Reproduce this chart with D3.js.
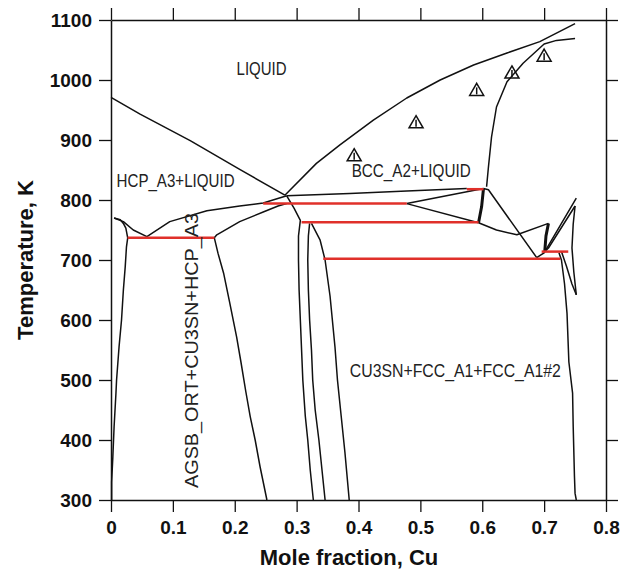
<!DOCTYPE html>
<html><head><meta charset="utf-8">
<script src="https://cdn.jsdelivr.net/npm/d3@7"></script>
<style>body{margin:0;background:#fff}</style>
</head><body>
<svg id="c" width="625" height="571"></svg>
<script>
// ---- data ----
const xTicks = [0, 0.1, 0.2, 0.3, 0.4, 0.5, 0.6, 0.7, 0.8];
const xTickLabels = ["0", "0.1", "0.2", "0.3", "0.4", "0.5", "0.6", "0.7", "0.8"];
const yTicks = [300, 400, 500, 600, 700, 800, 900, 1000, 1100];
const yTickLabels = ["300", "400", "500", "600", "700", "800", "900", "1000", "1100"];

// phase boundaries [mole fraction Cu, temperature K]
const liquidusLeft = [[0,971],[0.047,943],[0.128,899],[0.208,851],[0.281,808]];
const liquidusRight = [[0.281,808],[0.332,861],[0.370,892],[0.424,933],[0.478,970],[0.532,1000],[0.586,1025],[0.640,1045],[0.693,1064],[0.75,1094]];
const bccSolidus = [[0.75,1069],[0.72,1066],[0.70,1060],[0.666,1028],[0.640,997],[0.623,955],[0.615,905],[0.610,855],[0.607,822]];
const bccUpper = [[0.284,807],[0.386,811],[0.478,815],[0.575,819]];
const triUpper = [[0.478,794],[0.602,819]];
const triLower = [[0.478,794],[0.594,762]];
const thickA = [[0.602,819],[0.599,789],[0.594,762]];
const diagA = [[0.602,819],[0.610,817],[0.688,704]];
const vCurve = [[0.594,762],[0.623,750],[0.656,742],[0.707,761]];
const thickB = [[0.707,761],[0.703,740],[0.701,714]];
const rightC1 = [[0.688,704],[0.70,712],[0.752,803]];
const rightC2 = [[0.701,714],[0.707,720],[0.75,790]];
const rightD1 = [[0.75,790],[0.747,760],[0.745,720],[0.748,680],[0.752,642]];
const rightD2 = [[0.728,714],[0.736,690],[0.745,660],[0.752,642]];
const rightMain = [[0.724,712],[0.728,700],[0.733,660],[0.737,611],[0.740,530],[0.746,478],[0.747,422],[0.749,340],[0.750,311],[0.752,300]];
const cu3snL = [[0.284,807],[0.296,786],[0.306,766],[0.303,740],[0.303,700],[0.304,650],[0.306,600],[0.308,550],[0.310,500],[0.314,440],[0.318,400],[0.322,350],[0.327,300]];
const cu3snR = [[0.321,761],[0.319,740],[0.318,700],[0.319,650],[0.321,600],[0.324,550],[0.326,500],[0.330,450],[0.336,400],[0.341,350],[0.346,300]];
const fccL = [[0.324,761],[0.338,733],[0.346,700],[0.354,640],[0.362,555],[0.366,500],[0.372,440],[0.378,380],[0.385,300]];
const vLeft = [[0.005,770],[0.02,764],[0.036,750],[0.058,739]];
const hcpSolidus = [[0.005,770],[0.015,767],[0.02,761],[0.024,753],[0.027,737]];
const hcpSolvus = [[0.027,737],[0.025,722],[0.023,689],[0.020,650],[0.017,600],[0.013,555],[0.009,500],[0.008,478],[0.005,422],[0.003,372],[0.001,330],[0.001,300]];
const vRight = [[0.058,739],[0.095,764],[0.155,782],[0.208,790],[0.246,795],[0.284,807]];
const agsbRight = [[0.167,737],[0.173,711],[0.182,678],[0.192,628],[0.203,572],[0.210,530],[0.218,480],[0.225,439],[0.233,400],[0.241,355],[0.252,300]];
const agsbUpper = [[0.167,737],[0.171,742],[0.208,764],[0.246,780],[0.270,790],[0.284,794]];

const thinLines = [liquidusLeft, liquidusRight, bccSolidus, bccUpper, triUpper, triLower, diagA, vCurve,
  rightC1, rightC2, rightD1, rightD2, rightMain, cu3snL, cu3snR, fccL, vLeft, hcpSolidus, hcpSolvus,
  vRight, agsbRight, agsbUpper];
const thickLines = [thickA, thickB];

// invariant (tie) lines: [x1, x2, T]
const tieLines = [[0.027,0.167,737],[0.246,0.478,794],[0.308,0.594,763],[0.343,0.726,702],[0.575,0.602,818],[0.696,0.739,714]];

// experimental points
const expX = [0.393, 0.493, 0.591, 0.648, 0.700];
const expT = [872, 927, 981, 1010, 1038];

// region labels
const labelText = ["LIQUID", "HCP_A3+LIQUID", "BCC_A2+LIQUID", "CU3SN+FCC_A1+FCC_A1#2"];
const labelX = [0.203, 0.009, 0.389, 0.386];
const labelT = [1009, 822, 839, 505.5];
const vLabelText = "AGSB_ORT+CU3SN+HCP_A3";
const vLabelX = 0.141, vLabelT = 320;

// ---- drawing ----
const svg = d3.select("#c");
const x = d3.scaleLinear().domain([0, 0.8]).range([111, 606]);
const y = d3.scaleLinear().domain([300, 1100]).range([500, 20]);
const line = d3.line().x(d => x(d[0])).y(d => y(d[1]));

const g = svg.append("g");
g.selectAll(".thin").data(thinLines).enter().append("path")
  .attr("d", line).attr("fill", "none").attr("stroke", "#111").attr("stroke-width", 1.5)
  .attr("stroke-linejoin", "round");
g.selectAll(".thick").data(thickLines).enter().append("path")
  .attr("d", line).attr("fill", "none").attr("stroke", "#111").attr("stroke-width", 3);
g.selectAll(".tie").data(tieLines).enter().append("line")
  .attr("x1", d => x(d[0])).attr("x2", d => x(d[1]))
  .attr("y1", d => y(d[2])).attr("y2", d => y(d[2]))
  .attr("stroke", "#e0302a").attr("stroke-width", 2.5);

// experimental triangles
const sym = d3.symbol(d3.symbolTriangle, 85);
expX.forEach((v, i) => {
  const cx = x(v), cy = y(expT[i]);
  g.append("path").attr("d", sym()).attr("transform", `translate(${cx},${cy})`)
    .attr("fill", "none").attr("stroke", "#111").attr("stroke-width", 1.5);
  g.append("line").attr("x1", cx).attr("x2", cx).attr("y1", cy - 4).attr("y2", cy + 3)
    .attr("stroke", "#111").attr("stroke-width", 1.5);
});

// labels
const lw = [50, 118, 119, 211];
const lfs = [19, 18.5, 18.5, 18.5];
labelText.forEach((t, i) => {
  svg.append("text").attr("x", x(labelX[i])).attr("y", y(labelT[i]))
    .attr("font-family", "Liberation Sans, Arial, sans-serif").attr("font-size", lfs[i])
    .attr("fill", "#222").attr("textLength", lw[i]).attr("lengthAdjust", "spacingAndGlyphs")
    .text(t);
});
svg.append("text").attr("transform", `translate(${x(vLabelX)},${y(vLabelT)}) rotate(-90)`)
  .attr("font-family", "Liberation Sans, Arial, sans-serif").attr("font-size", 19)
  .attr("fill", "#222").attr("textLength", 275).attr("lengthAdjust", "spacingAndGlyphs")
  .text(vLabelText);

// axes
function styleAxis(sel) {
  sel.selectAll("path.domain").attr("stroke", "#111").attr("stroke-width", 1.5);
  sel.selectAll(".tick line").attr("stroke", "#111").attr("stroke-width", 1.3);
  sel.selectAll("text").attr("font-family", "Liberation Sans, Arial, sans-serif")
    .attr("font-weight", "bold").attr("font-size", 19).attr("fill", "#111");
}
svg.append("g").attr("transform", "translate(0,500)")
  .call(d3.axisBottom(x).tickValues(xTicks).tickFormat((d, i) => xTickLabels[i]).tickSize(12).tickSizeOuter(0).tickPadding(9))
  .call(styleAxis);
svg.append("g").attr("transform", "translate(0,20)")
  .call(d3.axisTop(x).tickValues(xTicks).tickFormat("").tickSize(12).tickSizeOuter(0))
  .call(styleAxis);
svg.append("g").attr("transform", "translate(111,0)")
  .call(d3.axisLeft(y).tickValues(yTicks).tickFormat((d, i) => yTickLabels[i]).tickSize(12).tickSizeOuter(0).tickPadding(7))
  .call(styleAxis);
svg.append("g").attr("transform", "translate(606,0)")
  .call(d3.axisRight(y).tickValues(yTicks).tickFormat("").tickSize(12).tickSizeOuter(0))
  .call(styleAxis);

// axis titles
svg.append("text").attr("x", 349).attr("y", 565).attr("text-anchor", "middle")
  .attr("font-family", "Liberation Sans, Arial, sans-serif").attr("font-weight", "bold")
  .attr("font-size", 22).attr("fill", "#111").text("Mole fraction, Cu");
svg.append("text").attr("transform", "translate(33,260) rotate(-90)").attr("text-anchor", "middle")
  .attr("font-family", "Liberation Sans, Arial, sans-serif").attr("font-weight", "bold")
  .attr("font-size", 22).attr("fill", "#111").text("Temperature, K");
</script>
</body></html>
